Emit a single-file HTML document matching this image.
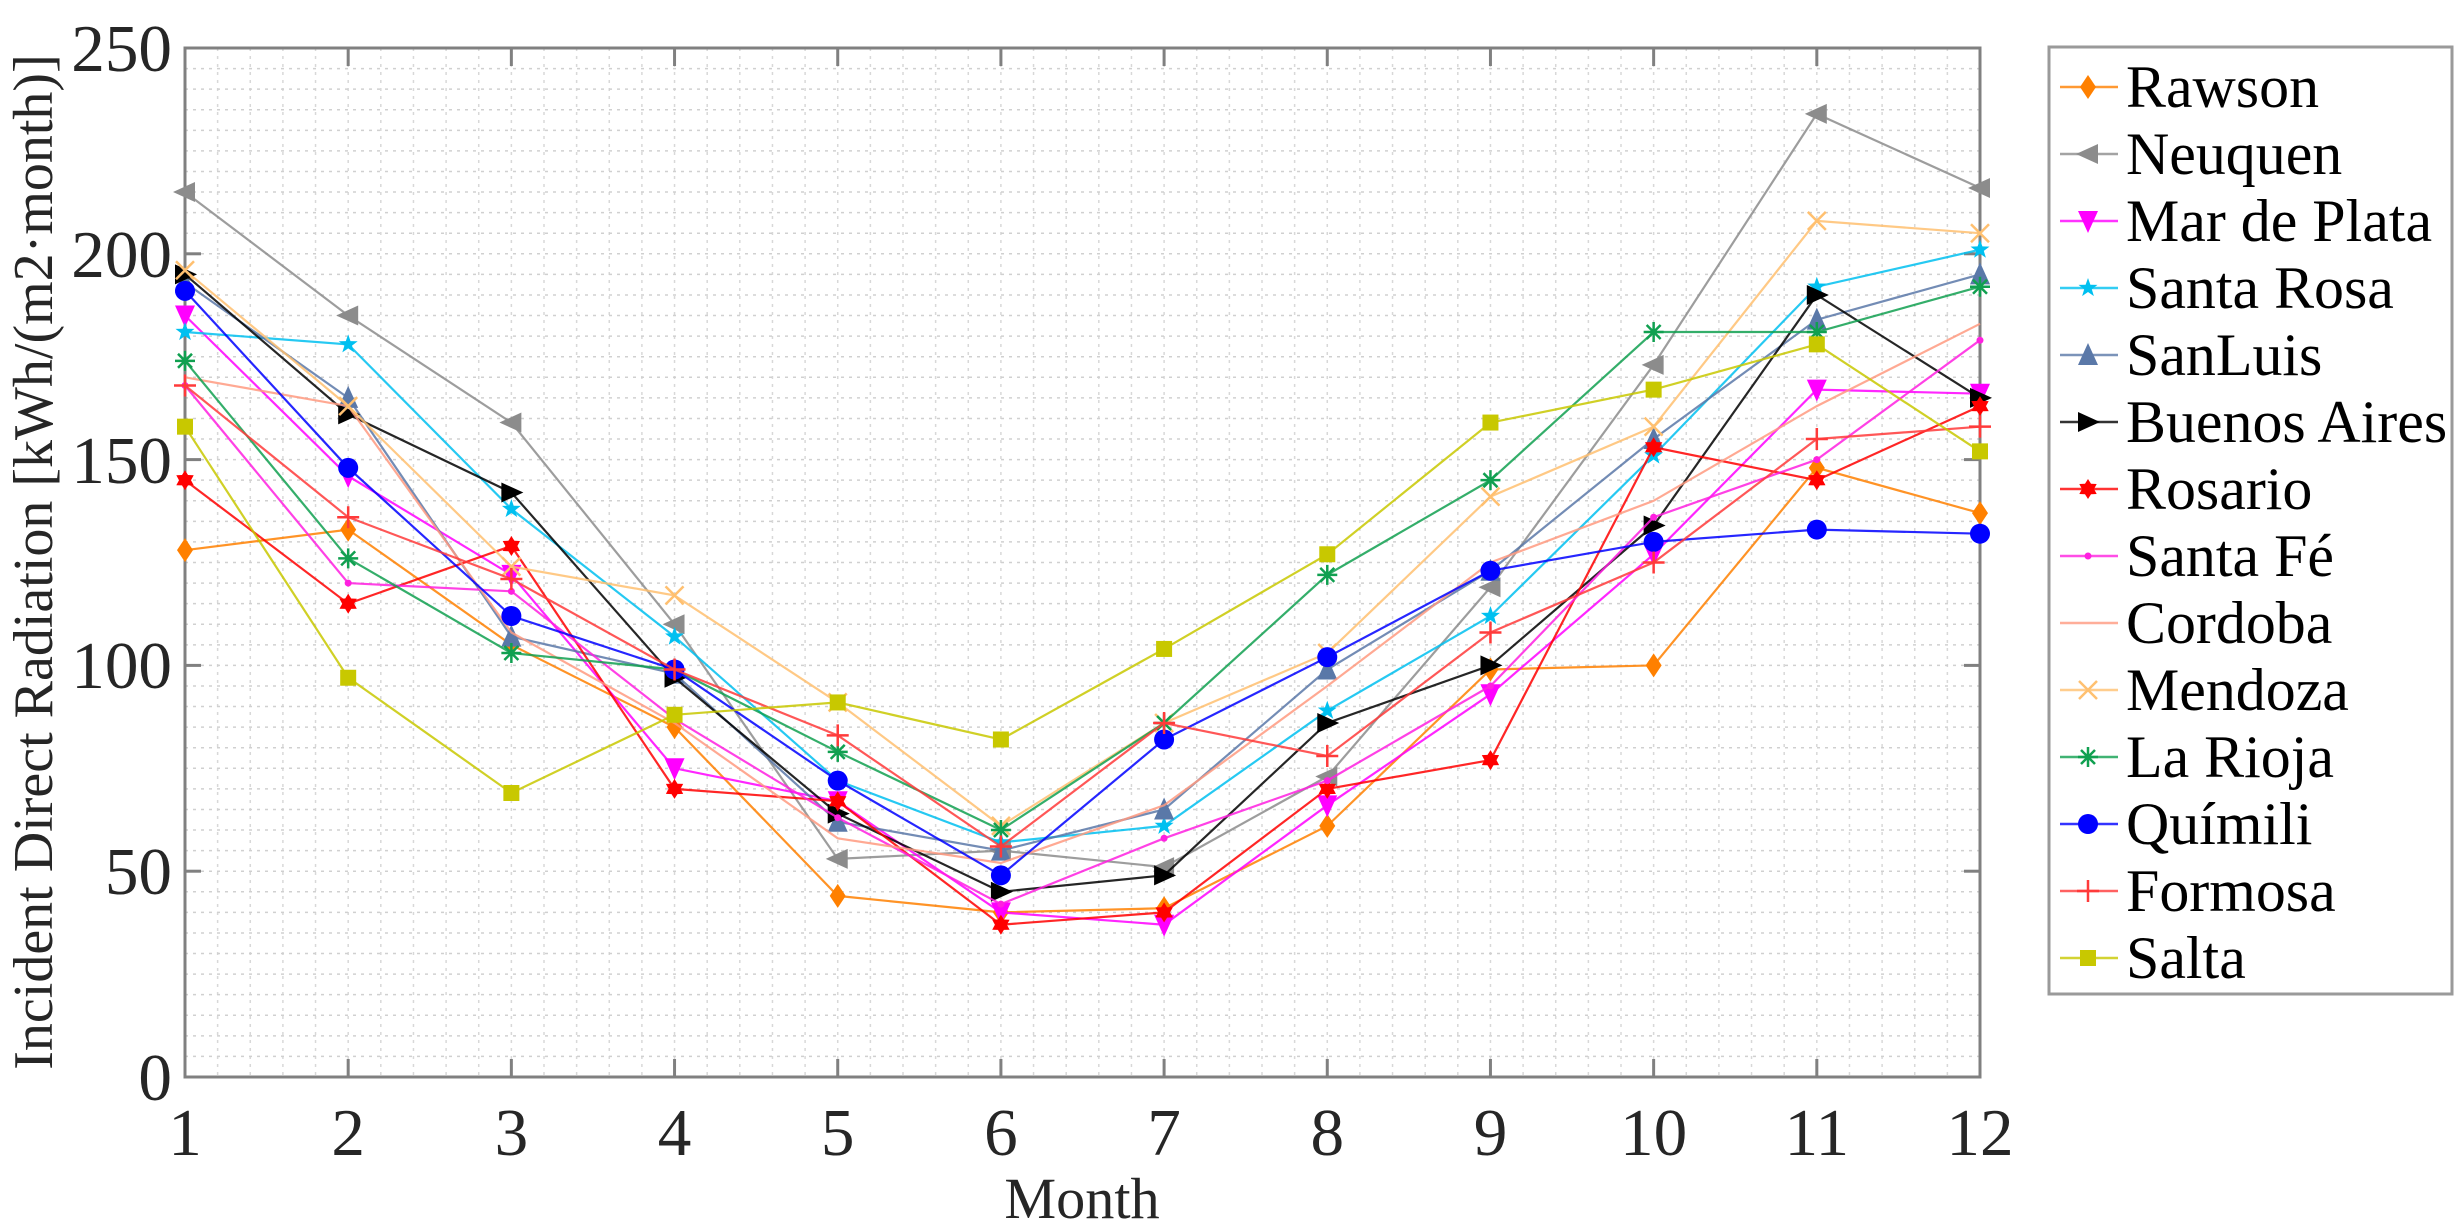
<!DOCTYPE html>
<html><head><meta charset="utf-8"><style>
html,body{margin:0;padding:0;background:#fff;}
svg{display:block;}
.t{font-family:"Liberation Serif",serif;fill:#262626;font-size:56px;}
.xt{text-anchor:middle;}
.yt{text-anchor:end;}
.lt{fill:#000;}
</style></head><body>
<svg id="chart" width="2461" height="1231" viewBox="0 0 2461 1231" xmlns="http://www.w3.org/2000/svg">
<g id="grid"></g>
<g id="axes"></g>
<g id="series"></g>
<g id="legend"></g>
<g>
<text class="t xt" transform="translate(185,1155) scale(1.2)">1</text>
<text class="t xt" transform="translate(348.2,1155) scale(1.2)">2</text>
<text class="t xt" transform="translate(511.4,1155) scale(1.2)">3</text>
<text class="t xt" transform="translate(674.5,1155) scale(1.2)">4</text>
<text class="t xt" transform="translate(837.7,1155) scale(1.2)">5</text>
<text class="t xt" transform="translate(1000.9,1155) scale(1.2)">6</text>
<text class="t xt" transform="translate(1164.1,1155) scale(1.2)">7</text>
<text class="t xt" transform="translate(1327.3,1155) scale(1.2)">8</text>
<text class="t xt" transform="translate(1490.5,1155) scale(1.2)">9</text>
<text class="t xt" transform="translate(1653.6,1155) scale(1.2)">10</text>
<text class="t xt" transform="translate(1816.8,1155) scale(1.2)">11</text>
<text class="t xt" transform="translate(1980,1155) scale(1.2)">12</text>
</g>
<g>
<text class="t yt" transform="translate(172,1100) scale(1.2)">0</text>
<text class="t yt" transform="translate(172,894) scale(1.2)">50</text>
<text class="t yt" transform="translate(172,688) scale(1.2)">100</text>
<text class="t yt" transform="translate(172,483) scale(1.2)">150</text>
<text class="t yt" transform="translate(172,277) scale(1.2)">200</text>
<text class="t yt" transform="translate(172,71) scale(1.2)">250</text>
</g>
<g>
<text class="t lt" transform="translate(2126,107) scale(1.07)">Rawson</text>
<text class="t lt" transform="translate(2126,174) scale(1.07)">Neuquen</text>
<text class="t lt" transform="translate(2126,241) scale(1.07)">Mar de Plata</text>
<text class="t lt" transform="translate(2126,308) scale(1.07)">Santa Rosa</text>
<text class="t lt" transform="translate(2126,375) scale(1.07)">SanLuis</text>
<text class="t lt" transform="translate(2126,442) scale(1.07)">Buenos Aires</text>
<text class="t lt" transform="translate(2126,509) scale(1.07)">Rosario</text>
<text class="t lt" transform="translate(2126,576) scale(1.07)">Santa Fé</text>
<text class="t lt" transform="translate(2126,643) scale(1.07)">Cordoba</text>
<text class="t lt" transform="translate(2126,710) scale(1.07)">Mendoza</text>
<text class="t lt" transform="translate(2126,777) scale(1.07)">La Rioja</text>
<text class="t lt" transform="translate(2126,844) scale(1.07)">Químili</text>
<text class="t lt" transform="translate(2126,911) scale(1.07)">Formosa</text>
<text class="t lt" transform="translate(2126,978) scale(1.07)">Salta</text>
</g>
<text class="t" transform="translate(1082,1218) scale(1.04)" text-anchor="middle">Month</text>
<text class="t" transform="translate(52,562) rotate(-90)" text-anchor="middle">Incident Direct Radiation [kWh/(m2·month)]</text>
</svg>
<script>
const months = [1,2,3,4,5,6,7,8,9,10,11,12];
const yTicks = [0,50,100,150,200,250];
const names = ["Rawson","Neuquen","Mar de Plata","Santa Rosa","SanLuis","Buenos Aires","Rosario","Santa Fé","Cordoba","Mendoza","La Rioja","Químili","Formosa","Salta"];
const rawson = [128,133,105,85,44,40,41,61,99,100,148,137];
const neuquen = [215,185,159,110,53,55,51,73,119,173,234,216];
const marDePlata = [185,146,122,75,67,40,37,66,93,127,167,166];
const santaRosa = [181,178,138,107,72,57,61,89,112,151,192,201];
const sanLuis = [193,165,107,98,62,55,65,99,123,155,184,195];
const buenosAires = [195,161,142,97,64,45,49,86,100,134,190,165];
const rosario = [145,115,129,70,67,37,40,70,77,153,145,163];
const santaFe = [168,120,118,87,63,42,58,72,95,136,150,179];
const cordoba = [170,163,108,86,58,52,66,95,125,140,163,183];
const mendoza = [196,163,124,117,91,61,86,103,141,158,208,205];
const laRioja = [174,126,103,99,79,60,86,122,145,181,181,192];
const quimili = [191,148,112,99,72,49,82,102,123,130,133,132];
const formosa = [168,136,121,99,83,56,86,78,108,125,155,158];
const salta = [158,97,69,88,91,82,104,127,159,167,178,152];
const seriesValues = [rawson,neuquen,marDePlata,santaRosa,sanLuis,buenosAires,rosario,santaFe,cordoba,mendoza,laRioja,quimili,formosa,salta];

const colors = ["#ff8000","#8c8c8c","#ff00ff","#00c0f0","#5a78a8","#000000","#ff0000","#ff20e0","#ff9a80","#ffc070","#10a050","#0000ff","#ff3a3a","#c8c800"];
const markers = ["diamond","ltri","dtri","star","utri","rtri","hex","dot","none","x","ast","circle","plus","square"];

const NS="http://www.w3.org/2000/svg";
const L=185,R=1980,T=48,B=1077;
const xs=m=>L+(m-1)*(R-L)/11;
const ys=v=>B-v*(B-T)/250;
function mk(tag,attrs,parent){const e=document.createElementNS(NS,tag);for(const k in attrs)e.setAttribute(k,attrs[k]);parent.appendChild(e);return e;}

const grid=document.getElementById('grid');
for(let m=1;m<=12;m+=0.2){const x=xs(m);const gl=mk('line',{x1:x,y1:T,x2:x,y2:B,stroke:'#d8d8d8','stroke-width':1.5,'stroke-dasharray':'3,5'},grid);

}
for(let v=5;v<250;v+=5){const y=ys(v);const gl=mk('line',{x1:L,y1:y,x2:R,y2:y,stroke:'#d0d0d0','stroke-width':1.5,'stroke-dasharray':'3,5'},grid);

}

const axes=document.getElementById('axes');
const frame=mk('rect',{x:L,y:T,width:R-L,height:B-T,fill:'none',stroke:'#808080','stroke-width':3},axes);


months.forEach(m=>{const x=xs(m);
mk('line',{x1:x,y1:B,x2:x,y2:B-18,stroke:'#808080','stroke-width':3},axes);
mk('line',{x1:x,y1:T,x2:x,y2:T+18,stroke:'#808080','stroke-width':3},axes);});
yTicks.forEach(v=>{const y=ys(v);
mk('line',{x1:L,y1:y,x2:L+16,y2:y,stroke:'#808080','stroke-width':3},axes);
mk('line',{x1:R,y1:y,x2:R-16,y2:y,stroke:'#808080','stroke-width':3},axes);});

function drawMarker(type,x,y,c,g){
const s=10;let e=null;
switch(type){
case 'diamond':e=mk('polygon',{points:`${x},${y-s-2} ${x+s-2},${y} ${x},${y+s+2} ${x-s+2},${y}`,fill:c},g);break;
case 'ltri':e=mk('polygon',{points:`${x-s-2},${y} ${x+s},${y-s} ${x+s},${y+s}`,fill:c},g);break;
case 'rtri':e=mk('polygon',{points:`${x+s+2},${y} ${x-s},${y-s} ${x-s},${y+s}`,fill:c},g);break;
case 'dtri':e=mk('polygon',{points:`${x},${y+s+2} ${x-s},${y-s} ${x+s},${y-s}`,fill:c},g);break;
case 'utri':e=mk('polygon',{points:`${x},${y-s-2} ${x-s},${y+s} ${x+s},${y+s}`,fill:c},g);break;
case 'star':{let p=[];for(let i=0;i<10;i++){const r=i%2?4:10,a=-Math.PI/2+i*Math.PI/5;p.push((x+r*Math.cos(a)).toFixed(1)+','+(y+r*Math.sin(a)).toFixed(1));}e=mk('polygon',{points:p.join(' '),fill:c},g);break;}
case 'hex':{let p=[];for(let i=0;i<12;i++){const r=i%2?6:10,a=-Math.PI/2+i*Math.PI/6;p.push((x+r*Math.cos(a)).toFixed(1)+','+(y+r*Math.sin(a)).toFixed(1));}e=mk('polygon',{points:p.join(' '),fill:c},g);break;}
case 'dot':e=mk('circle',{cx:x,cy:y,r:3.5,fill:c},g);break;
case 'circle':e=mk('circle',{cx:x,cy:y,r:10,fill:c},g);break;
case 'square':e=mk('rect',{x:x-8,y:y-8,width:16,height:16,fill:c},g);break;
case 'x':e=mk('path',{d:`M${x-9},${y-9}L${x+9},${y+9}M${x-9},${y+9}L${x+9},${y-9}`,stroke:c,'stroke-width':2.5},g);break;
case 'plus':e=mk('path',{d:`M${x-11},${y}L${x+11},${y}M${x},${y-11}L${x},${y+11}`,stroke:c,'stroke-width':2.5},g);break;
case 'ast':e=mk('path',{d:`M${x-10},${y}L${x+10},${y}M${x},${y-10}L${x},${y+10}M${x-7},${y-7}L${x+7},${y+7}M${x-7},${y+7}L${x+7},${y-7}`,stroke:c,'stroke-width':2.5},g);break;
}
return e;}

const sg=document.getElementById('series');
seriesValues.forEach((vals,i)=>{
const g=mk('g',{},sg);


const pts=vals.map((v,j)=>xs(months[j]).toFixed(1)+','+ys(v).toFixed(1)).join(' ');
const pl=mk('polyline',{points:pts,fill:'none',stroke:colors[i],'stroke-width':2.2,'stroke-opacity':0.85},g);


vals.forEach((v,j)=>{const m=drawMarker(markers[i],xs(months[j]),ys(v),colors[i],g);
if(m){
}});
});

const lg=document.getElementById('legend');
const box=mk('rect',{x:2049,y:47,width:403,height:947,fill:'#fff',stroke:'#9a9a9a','stroke-width':3},lg);


names.forEach((n,i)=>{const y=87+i*67;
const g=mk('g',{},lg);


mk('line',{x1:2060,y1:y,x2:2118,y2:y,stroke:colors[i],'stroke-width':2.5,'stroke-opacity':0.8},g);
drawMarker(markers[i],2088,y,colors[i],g);});
</script>
</body></html>
